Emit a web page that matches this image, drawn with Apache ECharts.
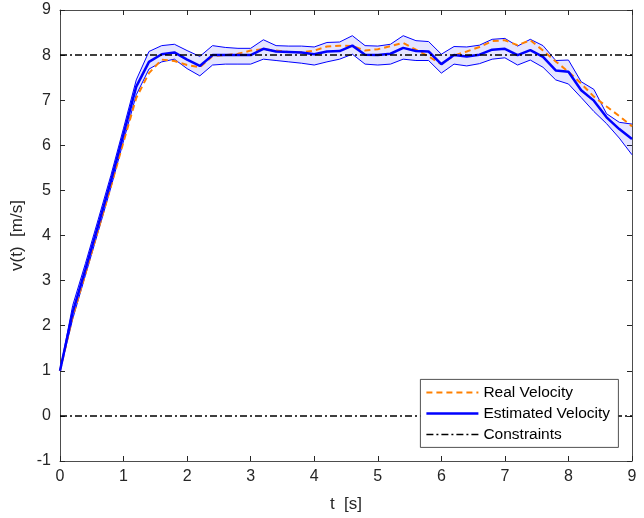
<!DOCTYPE html>
<html><head><meta charset="utf-8">
<script src="https://cdn.jsdelivr.net/npm/echarts@6/dist/echarts.min.js"></script>
<style>html,body{margin:0;padding:0;background:#fff}#c{width:644px;height:518px}</style>
</head><body><div id="c"></div>
<script>
const timeS = [0,0.2,0.4,0.6,0.8,1.0,1.2,1.4,1.6,1.8,2.0,2.2,2.4,2.6,2.8,3.0,3.2,3.4,3.6,3.8,4.0,4.2,4.4,4.6,4.8,5.0,5.2,5.4,5.6,5.8,6.0,6.2,6.4,6.6,6.8,7.0,7.2,7.4,7.6,7.8,8.0,8.2,8.4,8.6,8.8,9.0];
const estimated = [1.0,2.3,3.25,4.22,5.2,6.25,7.3,7.85,8.02,8.06,7.9,7.76,8.0,8.0,8.0,8.0,8.14,8.08,8.07,8.06,8.02,8.08,8.09,8.21,8.01,8.0,8.03,8.16,8.09,8.08,7.8,8.0,7.97,8.01,8.12,8.14,8.0,8.11,7.96,7.66,7.63,7.22,6.99,6.62,6.36,6.14];
const upperBound = [1.0,2.45,3.38,4.35,5.33,6.38,7.45,8.08,8.21,8.24,8.1,7.97,8.21,8.17,8.15,8.15,8.34,8.21,8.2,8.2,8.18,8.28,8.29,8.43,8.21,8.2,8.24,8.43,8.32,8.3,8.02,8.19,8.18,8.22,8.35,8.37,8.2,8.35,8.21,7.88,7.89,7.41,7.24,6.7,6.51,6.47];
const lowerBound = [1.0,2.15,3.12,4.08,5.06,6.1,7.12,7.69,7.85,7.91,7.7,7.54,7.78,7.8,7.8,7.8,7.91,7.88,7.85,7.82,7.78,7.85,7.91,8.02,7.8,7.78,7.8,7.91,7.88,7.88,7.6,7.8,7.76,7.81,7.91,7.94,7.78,7.89,7.73,7.45,7.36,7.06,6.75,6.48,6.16,5.79];
const realVel = [1.0,2.2,3.15,4.12,5.08,6.08,7.05,7.6,7.9,7.87,7.78,7.73,7.98,8.0,8.03,8.1,8.13,8.1,8.07,8.06,8.1,8.19,8.21,8.2,8.1,8.13,8.2,8.27,8.12,7.97,7.8,7.99,8.08,8.18,8.31,8.33,8.22,8.33,8.1,7.86,7.63,7.37,7.08,6.86,6.65,6.42];
const constraintLevels = [8, 0];
const legendNames = ['Real Velocity','Estimated Velocity','Constraints'];

const pair = arr => timeS.map((t,i)=>[t,arr[i]]);
const bandData = timeS.map((t,i)=>[t, lowerBound[i], upperBound[i]]);
const FONT = 'Liberation Sans, Arial, sans-serif';
const axisCol = '#4d4d4d';

const chart = echarts.init(document.getElementById('c'), null, {renderer:'canvas'});
const baseX = {type:'value', min:0, max:9, interval:1,
  axisLine:{show:true, onZero:false, lineStyle:{color:axisCol, width:1}},
  axisTick:{show:true, inside:true, length:5, lineStyle:{color:'#262626'}},
  splitLine:{show:false}};
const baseY = {type:'value', min:-1, max:9, interval:1,
  axisLine:{show:true, onZero:false, lineStyle:{color:axisCol, width:1}},
  axisTick:{show:true, inside:true, length:5, lineStyle:{color:'#262626'}},
  splitLine:{show:false}};

const realStyle = {color:'#ff8000', width:2, type:[6,4]};
const estStyle = {color:'#0000ff', width:2.5};
const consStyle = {color:'#000000', width:1.5, type:[7,3,2,3]};

const series = [
  {type:'custom', name:'band', silent:true, z:1, data:bandData,
   renderItem:(params, api)=>{
     if (params.dataIndex !== 0) return null;
     const up = bandData.map(d=>api.coord([d[0], d[2]]));
     const lo = bandData.map(d=>api.coord([d[0], d[1]])).reverse();
     return {type:'polygon', shape:{points: up.concat(lo)},
             style:{fill:'rgba(0,0,255,0.1)', stroke:'none'}};
   }},
  {type:'line', name:'upper', data:pair(upperBound), symbol:'none', silent:true, z:2,
   lineStyle:{color:'#0000ff', width:1}},
  {type:'line', name:'lower', data:pair(lowerBound), symbol:'none', silent:true, z:2,
   lineStyle:{color:'#0000ff', width:1}},
  {type:'line', name:legendNames[0], data:pair(realVel), symbol:'none', z:3, lineStyle:realStyle},
  {type:'line', name:legendNames[1], data:pair(estimated), symbol:'none', z:4, lineStyle:estStyle},
];
constraintLevels.forEach(v=>{
  series.push({type:'line', name:legendNames[2], data:[[0,v],[9,v]], symbol:'none', z:5, lineStyle:consStyle});
});

// legend drawn as graphic elements (box, line samples, text)
const lgX = 420, lgY = 379, lgW = 198, lgH = 68, rowH = 21;
const styles = [realStyle, estStyle, consStyle];
const lgChildren = [{type:'rect', z:100, shape:{x:0,y:0,width:lgW,height:lgH},
  style:{fill:'#fff', stroke:'#262626', lineWidth:0.8}}];
legendNames.forEach((n,i)=>{
  const y = 13 + i*rowH;
  const s = styles[i];
  lgChildren.push({type:'line', z:101, shape:{x1:6,y1:y,x2:58,y2:y},
    style:{stroke:s.color, lineWidth:s.width, lineDash:s.type || null}});
  lgChildren.push({type:'text', z:101, x:63, y:y, style:{text:n, fill:'#000', font:'15.5px '+FONT,
    verticalAlign:'middle'}});
});

chart.setOption({
  animation:false,
  backgroundColor:'#ffffff',
  grid:{left:60, right:12, top:10, bottom:56},
  xAxis:[
    Object.assign({}, baseX, {position:'bottom',
      name:'t  [s]', nameLocation:'middle', nameGap:35,
      nameTextStyle:{fontFamily:FONT, fontSize:17, color:'#262626'},
      axisLabel:{fontFamily:FONT, fontSize:16, color:'#262626', margin:8}}),
    Object.assign({}, baseX, {position:'top', axisLabel:{show:false}})
  ],
  yAxis:[
    Object.assign({}, baseY, {position:'left',
      name:'v(t)  [m/s]', nameLocation:'middle', nameGap:30, nameRotate:90,
      nameTextStyle:{fontFamily:FONT, fontSize:17, color:'#262626'},
      axisLabel:{fontFamily:FONT, fontSize:16, color:'#262626', margin:9}}),
    Object.assign({}, baseY, {position:'right', axisLabel:{show:false}})
  ],
  graphic:[{type:'group', left:lgX, top:lgY, z:100, zlevel:1, children:lgChildren}],
  series: series
});
</script></body></html>
